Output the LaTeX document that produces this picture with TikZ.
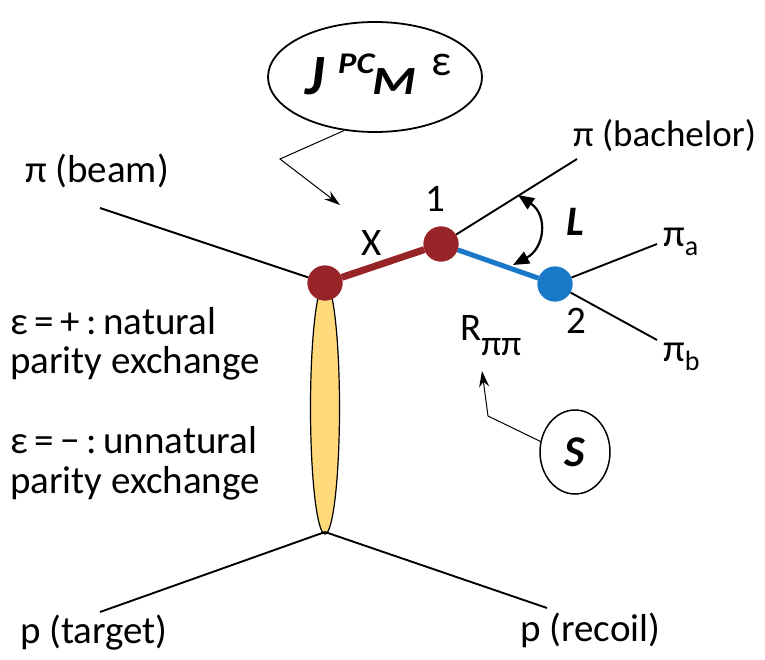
\documentclass[tikz,border=0pt]{standalone}
\usepackage{fontspec}
\setmainfont{Carlito}
\usetikzlibrary{arrows.meta,shapes.geometric}
\definecolor{vred}{HTML}{972428}
\definecolor{vblue}{HTML}{1A78C8}
\definecolor{vyellow}{HTML}{FFD97A}
\begin{document}
\begin{tikzpicture}[x=1pt,y=-1pt,
  txt/.style={anchor=base west,inner sep=0pt,font=\fontsize{39}{39}\selectfont},
  bi/.style={anchor=base west,inner sep=0pt},
  leg/.style={black,line width=1.9pt},
  leader/.style={black,line width=1pt,-{Stealth[length=16pt,width=10pt]}},
  redvtx/.style={circle,fill=vred,minimum size=35pt,inner sep=0pt},
  bluevtx/.style={circle,fill=vblue,minimum size=35pt,inner sep=0pt}]
\useasboundingbox (0,0) rectangle (765,660);
% coordinates
\coordinate (beam) at (100,208);
\coordinate (bach) at (577,159);
\coordinate (pia) at (657,244);
\coordinate (pib) at (657,340);
\coordinate (B) at (325,532);
\coordinate (tgt) at (100,612);
\coordinate (rec) at (547,608);
% exchange ellipse
\node[ellipse,draw=black,line width=1.2pt,fill=vyellow,minimum width=29pt,minimum height=252pt,inner sep=0pt] (exch) at (325,408) {};
% vertices
\node[redvtx] (A) at (325,283) {};
\node[redvtx] (V1) at (441,244) {};
\node[bluevtx] (V2) at (555,284) {};
% lines
\draw[leg] (beam) -- (A);
\draw[leg] (V1) -- (bach);
\draw[leg] (V2) -- (pia);
\draw[leg] (V2) -- (pib);
\draw[leg] (B) -- (tgt);
\draw[leg] (B) -- (rec);
\draw[draw=vred,line width=7pt] (A) -- (V1);
\draw[draw=vblue,line width=5pt] (V1) -- (V2);
\node[redvtx] at (A) {};
\node[redvtx] at (V1) {};
\node[bluevtx] at (V2) {};
% L angle arrow
\coordinate (La) at (518,195);
\coordinate (Lb) at (513,265);
\draw[black,line width=2.2pt,{Triangle[length=16pt,width=13pt]}-{Triangle[length=16pt,width=13pt]}] (La) .. controls (548,215) and (545,248) .. (Lb);
% labels
\node[txt] (tbeam) at (25,183) {π (beam)};
\node[txt,font=\fontsize{37}{37}\selectfont] (tbach) at (573,147) {π (bachelor)};
\node[txt] (tX) at (361,255) {X};
\node[txt] (t1) at (425,212) {1};
\node[txt] (t2) at (566,333) {2};
\node[txt,font=\fontsize{42}{42}\selectfont\bfseries\itshape] (tL) at (566,236) {L};
\node[txt] (tpia) at (663,247) {π\raisebox{-9pt}{\fontsize{28}{28}\selectfont a}};
\node[txt] (tpib) at (663,361) {π\raisebox{-9pt}{\fontsize{28}{28}\selectfont b}};
\node[txt] (tR) at (460,340) {R\raisebox{-15pt}{\fontsize{36}{36}\selectfont ππ}};
\node[txt] (tn1) at (10,334) {ε\,=\,+\,:\,natural};
\node[txt] (tn2) at (10,373) {parity exchange};
\node[txt] (tu1) at (10,453) {ε\,=\,−\,:\,unnatural};
\node[txt] (tu2) at (10,493) {parity exchange};
\node[txt] (ttgt) at (20,643) {p (target)};
\node[txt] (trec) at (520,641) {p (recoil)};
% JPC ellipse
\node[ellipse,draw=black,line width=1.8pt,minimum width=214pt,minimum height=110pt,inner sep=0pt] (J) at (375,77) {};
\node[bi] (tJ) at (305,95) {\fontsize{57}{57}\selectfont\bfseries\itshape J};
\node[bi] (tPC) at (338,74) {\scalebox{1.15}[1]{\fontsize{30}{30}\selectfont\bfseries\itshape PC}};
\node[bi] (tM) at (372,95) {\scalebox{1.25}[1]{\fontsize{40}{40}\selectfont\bfseries\itshape M}};
\node[bi] (teps) at (431,76) {\fontsize{44}{44}\selectfont ε};
\coordinate (Jk) at (280,159);
\coordinate (Xt) at (340,205);
\draw[leader] (J.-120) -- (Jk) -- (Xt);
% S circle
\node[ellipse,draw=black,line width=1.5pt,minimum width=70pt,minimum height=84pt,inner sep=0pt] (S) at (575,452) {\fontsize{44}{44}\selectfont\bfseries\itshape S};
\coordinate (Sk) at (488,416);
\coordinate (Rt) at (482,371);
\draw[leader] (S.163) -- (Sk) -- (Rt);
\end{tikzpicture}
\end{document}
